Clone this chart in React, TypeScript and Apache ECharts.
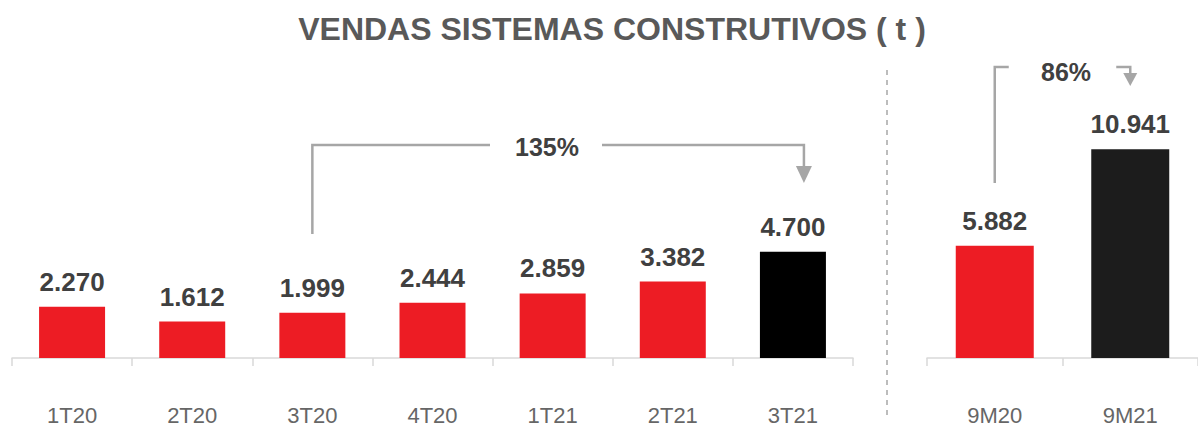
import React, { useEffect, useRef } from "react";
import * as echarts from "echarts";

const chartTitle = "VENDAS SISTEMAS CONSTRUTIVOS ( t )";
const quarters = ["1T20", "2T20", "3T20", "4T20", "1T21", "2T21", "3T21"];
const quarterSales = [2270, 1612, 1999, 2444, 2859, 3382, 4700];
const periods = ["9M20", "9M21"];
const periodSales = [5882, 10941];
const quarterGrowth = "135%";
const periodGrowth = "86%";

const FONT = "'Liberation Sans', Arial, sans-serif";
const RED = "#ED1C24";
const GREY_LINE = "#A6A6A6";

const fmt = (v: number) => String(v).replace(/\B(?=(\d{3})+(?!\d))/g, ".");

export default function App() {
  const ref = useRef<HTMLDivElement>(null);
  useEffect(() => {
    if (!ref.current) return;
    const chart = echarts.init(ref.current, null, { renderer: "svg" });
    const xAxisCommon = {
      type: "category",
      axisLine: { show: true, lineStyle: { color: "#D9D9D9", width: 1.5 } },
      axisTick: { show: true, length: 8, lineStyle: { color: "#D9D9D9", width: 1.5 } },
      axisLabel: { color: "#666666", fontSize: 22, fontFamily: FONT, margin: 46 },
      splitLine: { show: false },
    };
    const labelCommon = {
      show: true,
      position: "top",
      distance: 12,
      fontSize: 26,
      fontWeight: "bold",
      color: "#404040",
      fontFamily: FONT,
      formatter: (p: any) => fmt(p.value),
    };
    chart.setOption({
      animation: false,
      grid: [
        { left: 12, width: 841, top: 132, bottom: 70 },
        { left: 927, width: 280, top: 129, bottom: 70 },
      ],
      xAxis: [
        { ...xAxisCommon, gridIndex: 0, data: quarters },
        { ...xAxisCommon, gridIndex: 1, data: periods },
      ],
      yAxis: [
        { type: "value", gridIndex: 0, min: 0, max: 10000, show: false, splitLine: { show: false } },
        { type: "value", gridIndex: 1, min: 0, max: 12000, show: false, splitLine: { show: false } },
      ],
      series: [
        {
          type: "bar",
          xAxisIndex: 0,
          yAxisIndex: 0,
          data: quarterSales,
          barWidth: 66,
          itemStyle: {
            color: (p: any) => (p.dataIndex === quarterSales.length - 1 ? "#000000" : RED),
          },
          label: labelCommon,
        },
        {
          type: "bar",
          xAxisIndex: 1,
          yAxisIndex: 1,
          data: periodSales,
          barWidth: 78,
          itemStyle: {
            color: (p: any) => (p.dataIndex === periodSales.length - 1 ? "#1C1C1C" : RED),
          },
          label: labelCommon,
        },
      ],
    });

    const xStart = chart.convertToPixel({ xAxisIndex: 0 }, quarters[2]) as number;
    const xEnd = (chart.convertToPixel({ xAxisIndex: 0 }, quarters[6]) as number) + 11;
    const xpStart = chart.convertToPixel({ xAxisIndex: 1 }, periods[0]) as number;
    const xpEnd = chart.convertToPixel({ xAxisIndex: 1 }, periods[1]) as number;

    const lineStyle = { stroke: GREY_LINE, lineWidth: 2.5, fill: null };
    const textStyleCommon = {
      fontSize: 25,
      fontWeight: "bold",
      fill: "#404040",
      fontFamily: FONT,
      textAlign: "center",
      textVerticalAlign: "middle",
    };

    chart.setOption({
      graphic: [
        {
          type: "text",
          x: 612,
          y: 29,
          style: { ...textStyleCommon, text: chartTitle, fontSize: 32, fill: "#595959" },
        },
        {
          type: "line",
          shape: { x1: 887, y1: 70, x2: 887, y2: 417 },
          style: { stroke: GREY_LINE, lineWidth: 1.5, lineDash: [5, 5] },
        },
        // quarterly growth bracket
        {
          type: "polyline",
          shape: { points: [[xStart, 234], [xStart, 145], [490, 145]] },
          style: lineStyle,
        },
        {
          type: "polyline",
          shape: { points: [[602, 145], [xEnd, 145], [xEnd, 167]] },
          style: lineStyle,
        },
        {
          type: "polygon",
          shape: { points: [[xEnd - 8, 166], [xEnd + 8, 166], [xEnd, 183]] },
          style: { fill: GREY_LINE },
        },
        { type: "text", x: 547, y: 147, style: { ...textStyleCommon, text: quarterGrowth } },
        // 9M growth bracket
        {
          type: "polyline",
          shape: { points: [[xpStart, 183], [xpStart, 67], [xpStart + 14, 67]] },
          style: lineStyle,
        },
        {
          type: "polyline",
          shape: { points: [[xpEnd - 14, 67], [xpEnd, 67], [xpEnd, 74]] },
          style: lineStyle,
        },
        {
          type: "polygon",
          shape: { points: [[xpEnd - 7, 73], [xpEnd + 7, 73], [xpEnd, 86]] },
          style: { fill: GREY_LINE },
        },
        { type: "text", x: 1066, y: 72, style: { ...textStyleCommon, text: periodGrowth } },
      ],
    });
    return () => chart.dispose();
  }, []);
  return (
    <div
      ref={ref}
      style={{ position: "fixed", left: 0, top: 0, width: 1198, height: 428, background: "#ffffff" }}
    />
  );
}
